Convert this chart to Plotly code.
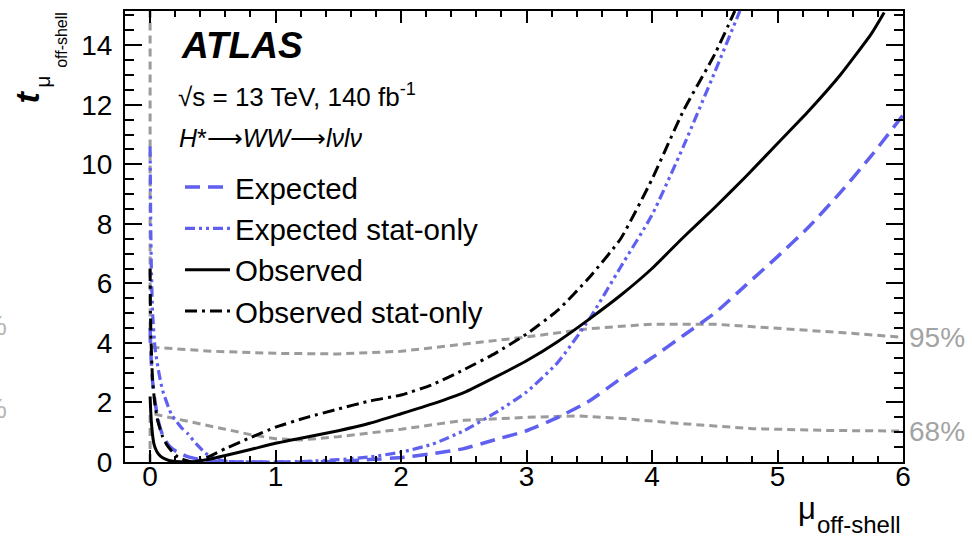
import plotly.graph_objects as go

# ---------------- data ----------------
obs_x = [0.0, 0.005, 0.01, 0.015, 0.02, 0.03, 0.05, 0.07, 0.1, 0.15, 0.2, 0.28, 0.35, 0.4, 0.5, 0.6,
         0.8, 1.0, 1.2, 1.5, 1.75, 2.0, 2.25, 2.5, 2.75, 3.0, 3.25, 3.5, 3.75, 4.0, 4.25, 4.5,
         4.75, 5.0, 5.25, 5.5, 5.75, 5.85]
obs_y = [2.2, 1.7, 1.35, 1.1, 0.9, 0.62, 0.38, 0.25, 0.14, 0.05, 0.015, 0.0, 0.01, 0.04, 0.12, 0.22,
         0.42, 0.63, 0.8, 1.05, 1.3, 1.62, 1.95, 2.33, 2.85, 3.4, 4.05, 4.8, 5.6, 6.5, 7.55, 8.55,
         9.6, 10.7, 11.8, 13.0, 14.4, 15.1]

obs_stat_x = [0.0, 0.003, 0.008, 0.015, 0.02, 0.04, 0.06, 0.1, 0.13, 0.17, 0.22, 0.28, 0.35, 0.45,
              0.6, 0.8, 1.0, 1.25, 1.5, 1.75, 2.0, 2.25, 2.5, 2.75, 3.0, 3.25, 3.5, 3.75, 4.0,
              4.25, 4.5, 4.66]
obs_stat_y = [6.5, 5.0, 4.0, 3.2, 2.7, 1.9, 1.4, 0.85, 0.6, 0.38, 0.17, 0.06, 0.0, 0.15,
              0.45, 0.82, 1.17, 1.5, 1.78, 2.05, 2.25, 2.6, 3.1, 3.65, 4.3, 5.1, 6.2, 7.5, 9.5,
              11.8, 13.7, 15.15]

exp_x = [0.0, 0.01, 0.02, 0.04, 0.07, 0.1, 0.15, 0.2, 0.25, 0.3, 0.4, 0.5, 0.6, 0.8, 1.0, 1.25,
         1.5, 1.75, 2.0, 2.25, 2.5, 2.75, 3.0, 3.25, 3.5, 3.75, 4.0, 4.25, 4.5, 4.75, 5.0, 5.25,
         5.5, 5.75, 6.0]
exp_y = [4.5, 3.3, 2.7, 2.0, 1.3, 0.9, 0.55, 0.38, 0.27, 0.18, 0.08, 0.03, 0.01, 0.0, 0.0, 0.0,
         0.02, 0.08, 0.15, 0.28, 0.45, 0.75, 1.05, 1.5, 2.05, 2.8, 3.5, 4.25, 5.0, 5.95, 6.9, 7.9,
         9.05, 10.3, 11.65]

exp_stat_x = [0.0, 0.005, 0.01, 0.02, 0.04, 0.07, 0.1, 0.17, 0.25, 0.3, 0.37, 0.44, 0.5, 0.6, 0.8,
              1.0, 1.25, 1.5, 1.75, 2.0, 2.25, 2.5, 2.75, 3.0, 3.25, 3.5, 3.75, 4.0, 4.25, 4.5, 4.7]
exp_stat_y = [10.6, 8.0, 6.5, 5.0, 3.8, 3.0, 2.4, 1.6, 1.15, 0.95, 0.6, 0.3, 0.15, 0.03, 0.0,
              0.0, 0.02, 0.08, 0.17, 0.33, 0.6, 1.05, 1.65, 2.35, 3.35, 4.8, 6.55, 8.3, 10.6, 13.1, 15.15]

cl95_x = [0.0, 0.0, 0.03, 0.25, 0.5, 1.0, 1.5, 2.0, 2.5, 3.0, 3.5, 4.0, 4.5, 5.0, 5.5, 6.0]
cl95_y = [15.2, 3.9, 3.85, 3.78, 3.72, 3.65, 3.63, 3.72, 3.95, 4.2, 4.48, 4.63, 4.63, 4.5, 4.35, 4.19]

cl68_x = [0.0, 0.0, 0.04, 0.2, 0.4, 0.6, 0.8, 1.0, 1.2, 1.5, 2.0, 2.5, 3.0, 3.4, 3.8, 4.2, 4.8, 5.4, 6.0]
cl68_y = [0.0, 1.6, 1.6, 1.45, 1.28, 1.1, 0.92, 0.78, 0.74, 0.85, 1.1, 1.4, 1.5, 1.55, 1.45, 1.3,
          1.12, 1.06, 1.04]

series_names = ["Expected", "Expected stat-only", "Observed", "Observed stat-only"]
cl_labels = ["95%", "68%"]
x_ticks = [0, 1, 2, 3, 4, 5, 6]
y_ticks = [0, 2, 4, 6, 8, 10, 12, 14]

# ---------------- style ----------------
FONT = "Liberation Sans, Arial, Helvetica, sans-serif"
BLUE = "#5f5ff0"
GRAY = "#9b9b9b"
W, H = 972, 540
ML, MR, MT, MB = 125, 69, 9, 78

fig = go.Figure()

# confidence-level thresholds
fig.add_trace(go.Scatter(x=cl95_x, y=cl95_y, mode="lines", showlegend=False, hoverinfo="skip",
                         line=dict(color=GRAY, width=3, dash="8px,5px")))
fig.add_trace(go.Scatter(x=cl68_x, y=cl68_y, mode="lines", showlegend=False, hoverinfo="skip",
                         line=dict(color=GRAY, width=3, dash="8px,5px")))

fig.add_trace(go.Scatter(x=exp_x, y=exp_y, mode="lines", name=series_names[0], legendgroup="a",
                         line=dict(color=BLUE, width=3.5, dash="15px,8px", shape="spline", smoothing=0.5)))
fig.add_trace(go.Scatter(x=exp_stat_x, y=exp_stat_y, mode="lines", name=series_names[1], legendgroup="b",
                         line=dict(color=BLUE, width=3.2, dash="10px,4px,3px,4px,3px,4px",
                                   shape="spline", smoothing=0.5)))
fig.add_trace(go.Scatter(x=obs_x, y=obs_y, mode="lines", name=series_names[2], legendgroup="c",
                         line=dict(color="black", width=3, shape="spline", smoothing=0.5)))
fig.add_trace(go.Scatter(x=obs_stat_x, y=obs_stat_y, mode="lines", name=series_names[3], legendgroup="d",
                         line=dict(color="black", width=3, dash="12px,5px,3px,5px", shape="spline",
                                   smoothing=0.5)))

pw, ph = W - ML - MR, H - MT - MB


def px(xpix):
    return (xpix - ML) / pw


def py(ypix):
    return (H - MB - ypix) / ph


ann = []
ann.append(dict(text="<b><i>ATLAS</i></b>", x=px(179), y=py(44), xanchor="left", yanchor="middle",
                font=dict(size=37, color="black", family=FONT)))
ann.append(dict(text="√s = 13 TeV, 140 fb<sup>-1</sup>", x=px(176), y=py(94), xanchor="left", yanchor="middle",
                font=dict(size=26, color="black", family=FONT)))
ann.append(dict(text="<i>H</i>*⟶<i>WW</i>⟶<i>lνlν</i>", x=px(177), y=py(137), xanchor="left", yanchor="middle",
                font=dict(size=25, color="black", family=FONT)))
# y-axis title pieces
ann.append(dict(text="<b><i>t</i></b>", x=px(27), y=py(96), textangle=-90, xanchor="center", yanchor="middle",
                font=dict(size=34, color="black", family=FONT)))
ann.append(dict(text="μ", x=px(43), y=py(80), textangle=-90, xanchor="center", yanchor="middle",
                font=dict(size=21, color="black", family=FONT)))
ann.append(dict(text="off-shell", x=px(62), y=py(38), textangle=-90, xanchor="center", yanchor="middle",
                font=dict(size=16, color="black", family=FONT)))
# x-axis title pieces
ann.append(dict(text="μ", x=px(807), y=py(509), xanchor="center", yanchor="middle",
                font=dict(size=31, color="black", family=FONT)))
ann.append(dict(text="off-shell", x=px(903), y=py(525), xanchor="right", yanchor="middle",
                font=dict(size=24, color="black", family=FONT)))
# CL labels at right end of the threshold curves
ann.append(dict(text=cl_labels[0], x=1, xref="paper", y=cl95_y[-1], yref="y", xanchor="left", yanchor="middle",
                xshift=4, font=dict(size=28, color="#a3a3a3", family=FONT)))
ann.append(dict(text=cl_labels[1], x=1, xref="paper", y=cl68_y[-1], yref="y", xanchor="left", yanchor="middle",
                xshift=4, font=dict(size=28, color="#a3a3a3", family=FONT)))
# clipped labels from the neighbouring panel
ann.append(dict(text="%", x=px(9), y=py(325), xanchor="right", yanchor="middle",
                font=dict(size=28, color="#b5b5b5", family=FONT)))
ann.append(dict(text="%", x=px(9), y=py(408), xanchor="right", yanchor="middle",
                font=dict(size=28, color="#b5b5b5", family=FONT)))
for a in ann:
    a.setdefault("xref", "paper")
    a.setdefault("yref", "paper")
    a["showarrow"] = False

axis_common = dict(showline=True, linecolor="black", linewidth=2, mirror="allticks", ticks="inside",
                   tickcolor="black", tickwidth=2, showgrid=False, zeroline=False,
                   tickfont=dict(size=28, color="black", family=FONT))

fig.update_layout(
    width=W, height=H, margin=dict(l=ML, r=MR, t=MT, b=MB),
    paper_bgcolor="white", plot_bgcolor="white",
    font=dict(family=FONT, color="black"),
    xaxis=dict(range=[-0.2, 6.0], tickvals=x_ticks, ticklen=12, ticklabelstandoff=-12,
               minor=dict(dtick=0.2, tick0=0, ticklen=6, tickcolor="black", tickwidth=1.5, ticks="inside"),
               **axis_common),
    yaxis=dict(range=[0, 15.15], tickvals=y_ticks, ticklen=17, ticklabelstandoff=5,
               minor=dict(dtick=0.5, tick0=0, ticklen=9, tickcolor="black", tickwidth=1.5, ticks="inside"),
               **axis_common),
    legend=dict(x=px(180), y=py(160), xanchor="left", yanchor="top", bgcolor="rgba(0,0,0,0)",
                font=dict(size=29.5, color="black", family=FONT), tracegroupgap=0, itemwidth=45),
    annotations=ann,
    showlegend=True,
)

fig.write_html("out.html")
